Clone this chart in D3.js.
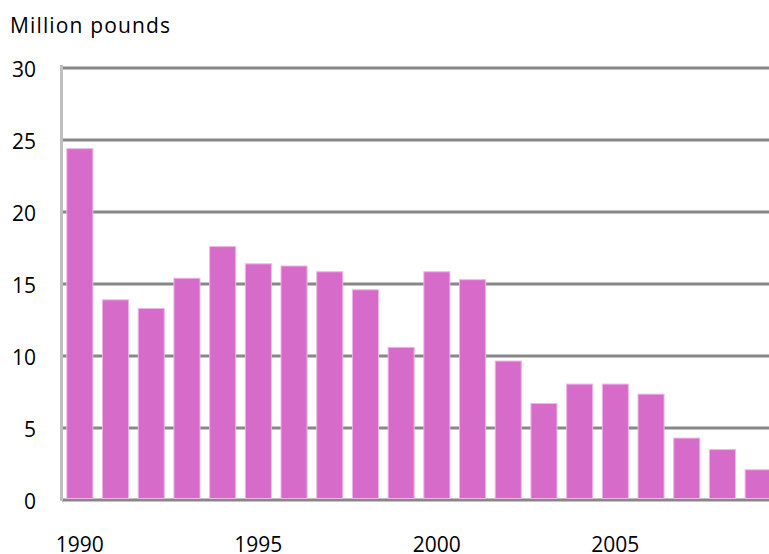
<!DOCTYPE html>
<html>
<head>
<meta charset="utf-8">
<script src="https://cdn.jsdelivr.net/npm/d3@7"></script>
<style>
  body { margin: 0; background: #fff; }
  text { font-family: "Open Sans", sans-serif; fill: #000; }
</style>
</head>
<body>
<div id="chart"></div>
<script>
// chart data
var years = d3.range(1990, 2010);
var values = [24.4, 13.9, 13.3, 15.4, 17.6, 16.4, 16.25, 15.85, 14.6, 10.6,
              15.85, 15.3, 9.65, 6.7, 8.05, 8.05, 7.35, 4.3, 3.5, 2.1];
var yTicks = [0, 5, 10, 15, 20, 25, 30];
var xLabels = [1990, 1995, 2000, 2005];

var width = 769;
var height = 554;

var svg = d3.select('#chart')
  .append('svg')
  .attr('width', width)
  .attr('height', height);

var x = d3.scaleBand()
  .domain(years)
  .range([62, 776])
  .paddingInner(0.27)
  .paddingOuter(0.135);

var y = d3.scaleLinear()
  .domain([0, 30])
  .range([500, 68]);

// gridlines
svg.append('g')
  .selectAll('line')
  .data(yTicks)
  .enter()
  .append('line')
  .attr('x1', 62)
  .attr('x2', width)
  .attr('y1', (d) => y(d))
  .attr('y2', (d) => y(d))
  .attr('stroke', '#878787')
  .attr('stroke-width', 3);

// left axis line
svg.append('line')
  .attr('x1', 61.5)
  .attr('x2', 61.5)
  .attr('y1', 65)
  .attr('y2', 501)
  .attr('stroke', '#bfbfbf')
  .attr('stroke-width', 3);

// bars
svg.append('g')
  .selectAll('rect')
  .data(values)
  .enter()
  .append('rect')
  .attr('x', (d, i) => x(years[i]))
  .attr('width', x.bandwidth())
  .attr('y', (d) => y(d))
  .attr('height', (d) => y(0) - y(d) - 1.5)
  .attr('fill', '#d76bc9')
  .attr('stroke', '#eeb5e6')
  .attr('stroke-width', 1);

// y tick labels
svg.append('g')
  .selectAll('text')
  .data(yTicks)
  .enter()
  .append('text')
  .attr('x', 36)
  .attr('y', (d) => y(d) + 9)
  .attr('text-anchor', 'end')
  .attr('font-size', 21)
  .text((d) => d);

// x labels
svg.append('g')
  .selectAll('text')
  .data(xLabels)
  .enter()
  .append('text')
  .attr('x', (d) => x(d) + x.bandwidth() / 2)
  .attr('y', 552)
  .attr('text-anchor', 'middle')
  .attr('font-size', 21)
  .text((d) => d);

svg.append('text')
  .attr('x', 10)
  .attr('y', 33)
  .attr('font-size', 21)
  .attr('textLength', 160)
  .attr('lengthAdjust', 'spacing')
  .text('Million pounds');
</script>
</body>
</html>
